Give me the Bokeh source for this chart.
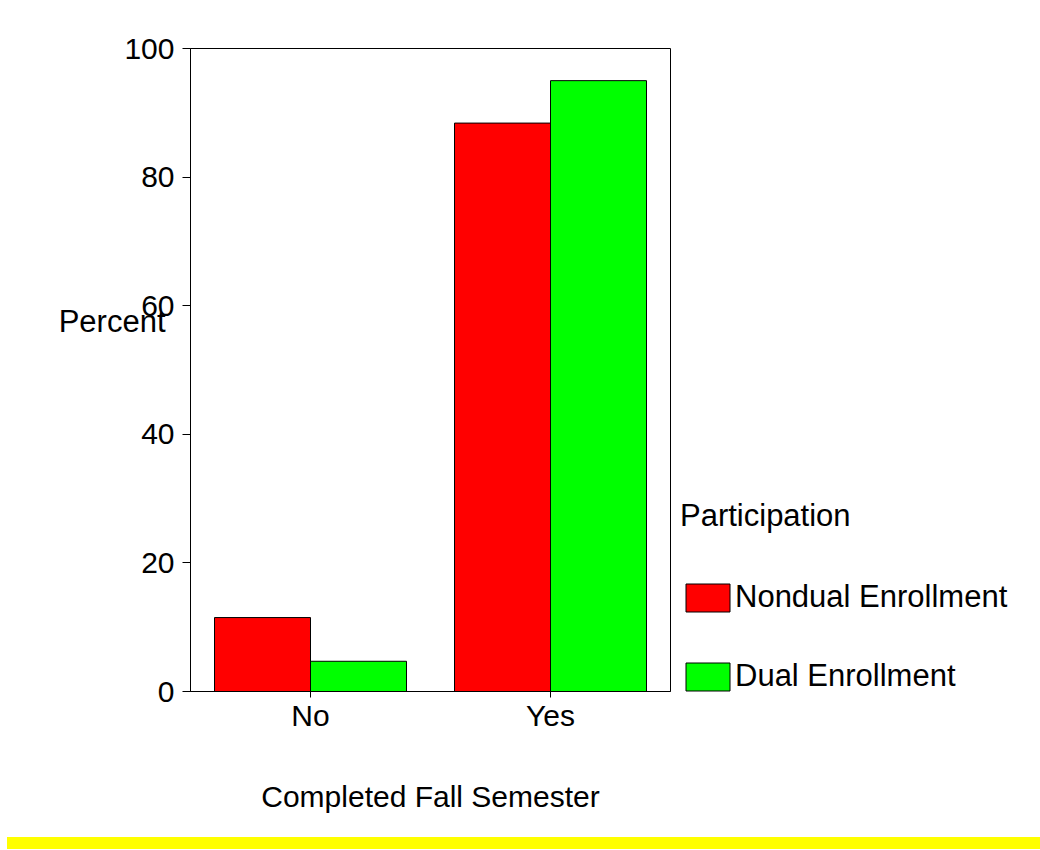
from bokeh.plotting import figure
from bokeh.models import (FactorRange, Range1d, FixedTicker, Legend, LegendItem,
                          LinearAxis, ColumnDataSource, Div)
from bokeh.transform import dodge
from bokeh.layouts import column
from bokeh.embed import file_html
from bokeh.resources import INLINE

categories = ["No", "Yes"]
series_names = ["Nondual Enrollment", "Dual Enrollment"]
nondual = [11.5, 88.4]
dual = [4.7, 95.0]
y_ticks = [0, 20, 40, 60, 80, 100]

FONT = "Liberation Sans"
FS = "30px"
FS_L = "31px"

src = ColumnDataSource(dict(cat=categories, nondual=nondual, dual=dual))

p = figure(x_range=FactorRange(factors=categories, range_padding=0),
           y_range=Range1d(0, 100),
           frame_width=480, frame_height=643,
           min_border_left=190, min_border_top=48,
           min_border_right=370, min_border_bottom=146,
           output_backend="svg", toolbar_location=None)

r1 = p.vbar(x=dodge("cat", -0.2, range=p.x_range), top="nondual", width=0.4,
            source=src, fill_color="#FF0000", line_color="black", line_width=1)
r2 = p.vbar(x=dodge("cat", 0.2, range=p.x_range), top="dual", width=0.4,
            source=src, fill_color="#00FF00", line_color="black", line_width=1)

p.xgrid.visible = False
p.ygrid.visible = False
p.outline_line_color = "black"
p.outline_line_width = 1
p.outline_line_alpha = 1
p.background_fill_color = "white"
p.border_fill_color = "white"

ya = p.yaxis[0]
ya.ticker = FixedTicker(ticks=y_ticks)
ya.minor_tick_line_color = None
ya.major_tick_out = 8
ya.major_tick_in = 0
ya.major_label_standoff = 8
ya.major_label_text_font = FONT
ya.major_label_text_font_size = FS
ya.major_label_text_color = "black"
ya.axis_line_color = "black"
ya.major_tick_line_color = "black"

# "Percent" title: horizontal label of a bare outer axis; the two empty lines
# below it lift it above the frame's vertical centre, as in the reference
pct_axis = LinearAxis(ticker=FixedTicker(ticks=[]),
                      axis_line_color=None, major_tick_line_color=None,
                      minor_tick_line_color=None,
                      axis_label="Percent\n\n", axis_label_orientation="horizontal",
                      axis_label_standoff=-44, axis_label_text_font=FONT,
                      axis_label_text_font_size=FS_L,
                      axis_label_text_line_height=1.4,
                      axis_label_text_font_style="normal",
                      axis_label_text_color="black")
p.add_layout(pct_axis, "left")

xa = p.xaxis[0]
xa.major_tick_out = 6
xa.major_tick_in = 0
xa.major_label_standoff = 1
xa.major_label_text_font = FONT
xa.major_label_text_font_size = FS
xa.major_label_text_color = "black"
xa.axis_line_color = "black"
xa.major_tick_line_color = "black"
xa.axis_label = "Completed Fall Semester"
xa.axis_label_text_font = FONT
xa.axis_label_text_font_size = FS
xa.axis_label_text_font_style = "normal"
xa.axis_label_text_color = "black"
xa.axis_label_standoff = 45

legend = Legend(items=[LegendItem(label=series_names[0], renderers=[r1]),
                       LegendItem(label=series_names[1], renderers=[r2])],
                location=(10, -3), title="Participation",
                title_text_font=FONT, title_text_font_size=FS_L,
                title_text_font_style="normal", title_text_color="black",
                title_standoff=45,
                label_text_font=FONT, label_text_font_size=FS_L,
                label_text_color="black", label_standoff=-3,
                glyph_width=55, glyph_height=35, spacing=43,
                padding=0, margin=0, border_line_alpha=0,
                background_fill_alpha=0)
p.add_layout(legend, "right")

stripe = Div(width=1033, height=12, margin=(0, 0, 0, 7),
             styles={"background-color": "#FFFF00"})

layout = column(p, stripe, spacing=0)

open("out.html", "w").write(file_html(layout, INLINE))
